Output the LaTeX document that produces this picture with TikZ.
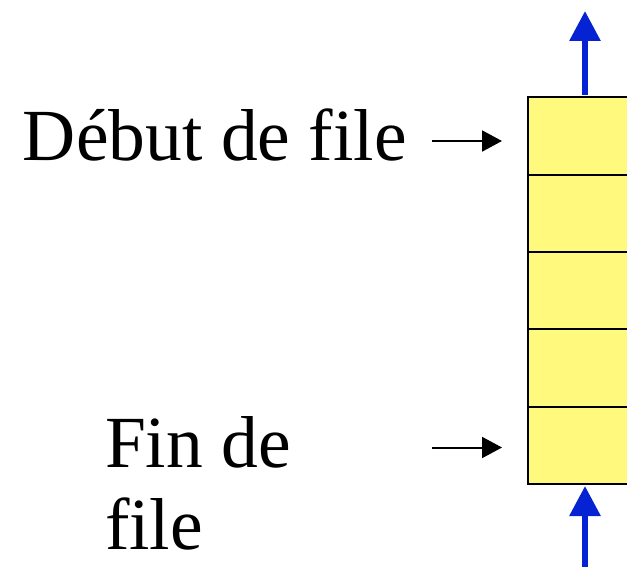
\documentclass[tikz,border=0pt]{standalone}
\usepackage{fontspec}
\setmainfont[Ligatures=NoCommon]{Liberation Serif}
\usetikzlibrary{arrows.meta}
\definecolor{cellfill}{RGB}{255,250,125}
\definecolor{flowblue}{RGB}{5,35,210}
\tikzset{
  cell/.style={draw=black, line width=2pt, fill=cellfill, minimum width=114pt,
    minimum height=77.3pt, inner sep=0pt, outer sep=0pt},
  label/.style={inner sep=0pt, outer sep=0pt, font=\fontsize{73.5}{82}\selectfont},
  pointer/.style={line width=2pt, -{Triangle[length=20pt,width=21pt]}},
  flow/.style={flowblue, line width=6pt, -{Triangle[length=30pt,width=30pt]}},
}
\begin{document}
\begin{tikzpicture}[x=1pt, y=-1pt]
  \useasboundingbox (0,0) rectangle (627,567);
  \clip (0,0) rectangle (627,567);

  % the queue: five stacked cells
  \node[cell] (c1) at (585,136.15) {};
  \node[cell, anchor=north] (c2) at (c1.south) {};
  \node[cell, anchor=north] (c3) at (c2.south) {};
  \node[cell, anchor=north] (c4) at (c3.south) {};
  \node[cell, anchor=north] (c5) at (c4.south) {};

  % labels
  \node[label, anchor=base west] (head) at (23,161) {Début de file};
  \node[label, anchor=north west, align=left] (tail) at (105,416) {Fin de\\file};

  % pointers to the head and tail cells
  \coordinate (hs) at (432,141);
  \coordinate (ts) at (432,447.5);
  \draw[pointer, shorten >=26pt] (hs) -- (hs -| c1.west);
  \draw[pointer, shorten >=26pt] (ts) -- (ts -| c5.west);

  % dequeue at the top, enqueue at the bottom
  \coordinate (out) at (585,11);
  \coordinate (in) at (585,567);
  \draw[flow, shorten <=2.5pt] (c1.north) -- (out);
  \draw[flow, shorten >=2pt] (in) -- (c5.south);
\end{tikzpicture}
\end{document}
